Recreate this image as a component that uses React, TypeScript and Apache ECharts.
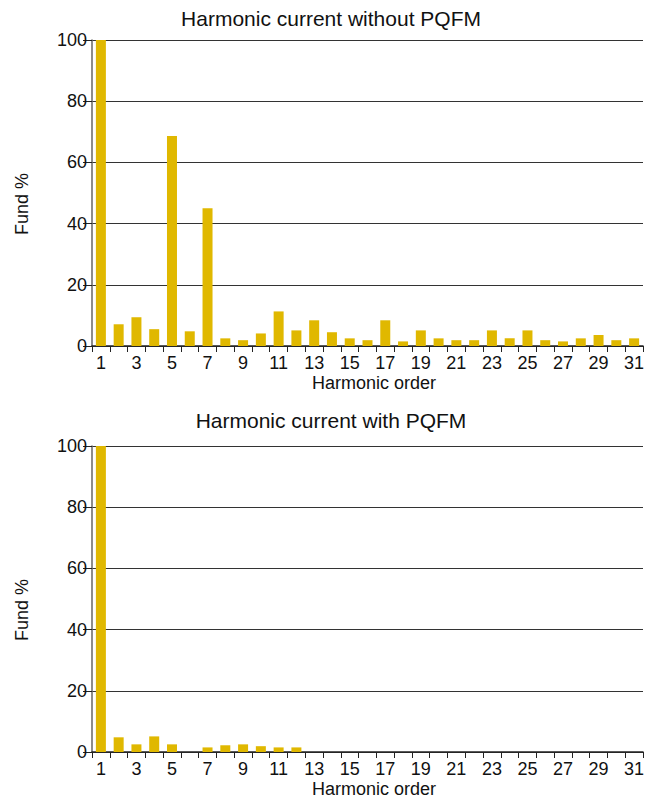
import React, { useEffect, useRef } from "react";
import * as echarts from "echarts";

const orders: string[] = Array.from({ length: 31 }, (_, i) => String(i + 1));

const withoutPQFM: number[] = [
  100, 7.1, 9.4, 5.5, 68.6, 4.8, 45.0, 2.5, 1.9, 4.1,
  11.3, 5.1, 8.4, 4.5, 2.5, 1.9, 8.4, 1.5, 5.1, 2.5,
  1.9, 1.9, 5.1, 2.5, 5.1, 1.9, 1.5, 2.5, 3.6, 1.9, 2.5,
];

const withPQFM: number[] = [
  100, 4.8, 2.5, 5.1, 2.5, 0, 1.5, 2.2, 2.5, 1.9,
  1.5, 1.5, 0, 0, 0, 0, 0, 0, 0, 0,
  0, 0, 0, 0, 0, 0, 0, 0, 0, 0, 0,
];

const titles: string[] = ["Harmonic current without PQFM", "Harmonic current with PQFM"];
const xName = "Harmonic order";
const yName = "Fund %";

const FONT = "Liberation Sans";
const BAR = "#e0b800";

export default function App() {
  const ref = useRef<HTMLDivElement>(null);
  useEffect(() => {
    if (!ref.current) return;
    const chart = echarts.init(ref.current, undefined, { renderer: "svg" });
    const tops = [40, 446];
    const titleY = [18, 420];
    const h = 306;
    const grids = tops.map((t) => ({ left: 92, right: 11, top: t, height: h }));
    const xAxes = tops.map((_, i) => ({
      type: "category" as const,
      gridIndex: i,
      data: orders,
      boundaryGap: true,
      axisLine: { show: true, lineStyle: { color: "#222", width: 1.5 } },
      axisTick: { show: true, interval: 0, length: 6, lineStyle: { color: "#222" } },
      axisLabel: { interval: 1, color: "#111", fontSize: 18, fontFamily: FONT, margin: 8 },
      splitLine: { show: false },
    }));
    const yAxes = tops.map((_, i) => ({
      type: "value" as const,
      gridIndex: i,
      min: 0,
      max: 100,
      interval: 20,
      axisLine: { show: true, lineStyle: { color: "#666", width: 1.5 } },
      axisTick: { show: true, length: 9, lineStyle: { color: "#222" } },
      axisLabel: { color: "#111", fontSize: 18, fontFamily: FONT, margin: 5 },
      splitLine: { show: true, lineStyle: { color: "#333", width: 1.2 } },
    }));
    const txt = (text: string, size: number) => ({
      text,
      fontSize: size,
      fontFamily: FONT,
      fill: "#111",
      align: "center",
      verticalAlign: "middle",
    });
    const graphics: any[] = [];
    tops.forEach((t, i) => {
      graphics.push({ type: "text", x: 331, y: titleY[i], style: txt(titles[i], 21) });
      graphics.push({ type: "text", x: 374, y: t + h + 37, style: txt(xName, 18) });
      graphics.push({
        type: "text",
        x: 22,
        y: t + h / 2 + 11,
        rotation: Math.PI / 2,
        style: txt(yName, 18),
      });
    });
    chart.setOption({
      animation: false,
      backgroundColor: "#fff",
      grid: grids,
      xAxis: xAxes,
      yAxis: yAxes,
      graphic: graphics,
      series: [withoutPQFM, withPQFM].map((d, i) => ({
        type: "bar",
        xAxisIndex: i,
        yAxisIndex: i,
        data: d,
        barWidth: 10,
        itemStyle: { color: BAR },
      })),
    });
    return () => chart.dispose();
  }, []);
  return (
    <div
      ref={ref}
      style={{ position: "absolute", left: 0, top: 0, width: 654, height: 802 }}
    />
  );
}
